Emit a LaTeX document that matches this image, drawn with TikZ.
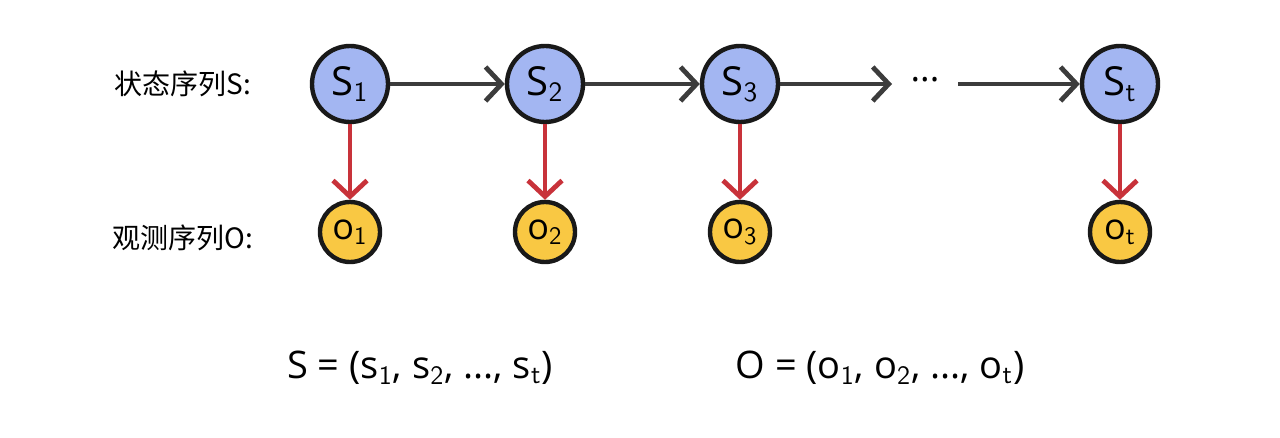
\documentclass[tikz,border=0pt]{standalone}
\usepackage{fontspec}
\setmainfont{Open Sans}
\newfontfamily\cjk{Noto Sans CJK SC}
\usetikzlibrary{arrows.meta}
\definecolor{sblue}{HTML}{A3B6F2}
\definecolor{oyel}{HTML}{F9C843}
\definecolor{darr}{HTML}{3C3C3C}
\definecolor{rarr}{HTML}{C8323A}
\begin{document}
\begin{tikzpicture}[x=0.5pt,y=-0.5pt,
 snode/.style={circle,draw=black!90,line width=2.2pt,fill=sblue,minimum size=38pt,inner sep=0pt,font=\fontsize{20}{20}\selectfont},
 onode/.style={circle,draw=black!90,line width=2.2pt,fill=oyel,minimum size=30pt,inner sep=0pt,font=\fontsize{18}{18}\selectfont},
 harr/.style={draw=darr,line width=2.4pt,-{Straight Barb[length=8pt,width=17pt,line width=2.4pt]}},
 varr/.style={draw=rarr,line width=2.4pt,-{Straight Barb[length=8pt,width=17pt,line width=2.4pt]}},
 lbl/.style={font=\cjk\fontsize{14}{14}\selectfont},
 frm/.style={font=\fontsize{19}{19}\selectfont}]
\useasboundingbox (0,0) rectangle (1280,438);
\node[lbl] (ls) at (183,84) {状态序列S:};
\node[lbl] (lo) at (183,238) {观测序列O:};
\node[snode] (s1) at (350,84) {S$_{\mathsf 1}$};
\node[snode] (s2) at (545,84) {S$_{\mathsf 2}$};
\node[snode] (s3) at (740,84) {S$_{\mathsf 3}$};
\node[snode] (st) at (1120,84) {S$_{\mathsf t}$};
\node[onode] (o1) at (350,232) {o$_{\mathsf 1}$};
\node[onode] (o2) at (545,232) {o$_{\mathsf 2}$};
\node[onode] (o3) at (740,232) {o$_{\mathsf 3}$};
\node[onode] (ot) at (1120,232) {o$_{\mathsf t}$};
\node[font=\fontsize{18}{18}\selectfont] (dots) at (925,80) {...};
\coordinate (a) at (892,84);
\coordinate (b) at (958,84);
\draw[harr] (s1) -- (s2);
\draw[harr] (s2) -- (s3);
\draw[harr] (s3) -- (a);
\draw[harr] (b) -- (st);
\draw[varr] (s1) -- (o1);
\draw[varr] (s2) -- (o2);
\draw[varr] (s3) -- (o3);
\draw[varr] (st) -- (ot);
\node[frm] (fs) at (420,368) {S = (s$_{\mathsf 1}$, s$_{\mathsf 2}$, ..., s$_{\mathsf t}$)};
\node[frm] (fo) at (880,368) {O = (o$_{\mathsf 1}$, o$_{\mathsf 2}$, ..., o$_{\mathsf t}$)};
\end{tikzpicture}
\end{document}
